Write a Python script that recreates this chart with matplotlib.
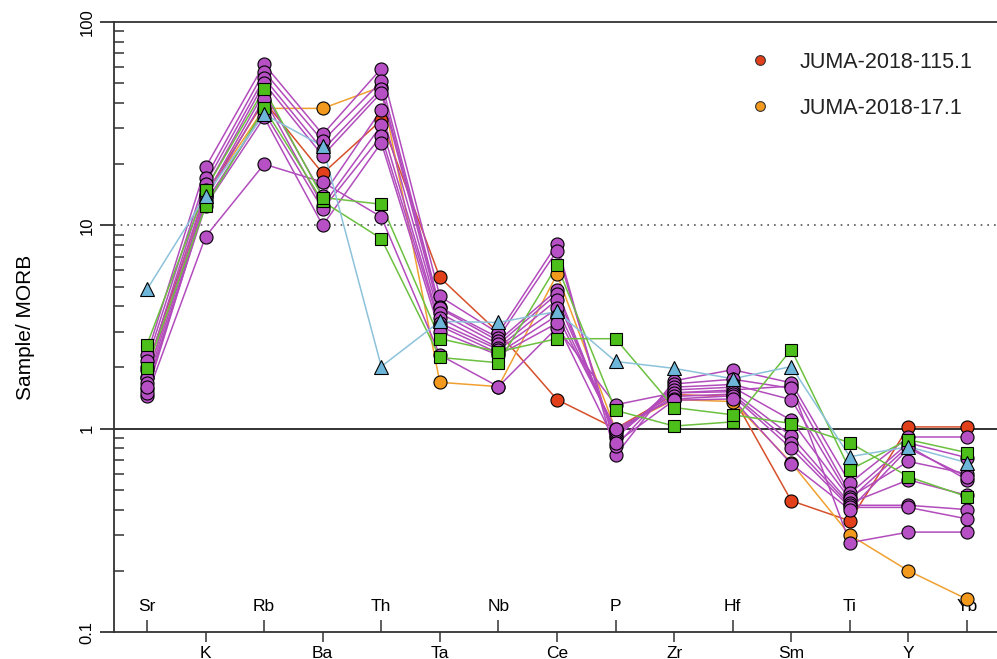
import numpy as np
import matplotlib
matplotlib.use("Agg")
import matplotlib.pyplot as plt
from matplotlib.lines import Line2D

plt.rcParams['font.family'] = ['Liberation Sans', 'DejaVu Sans']

elements = ['Sr', 'K', 'Rb', 'Ba', 'Th', 'Ta', 'Nb', 'Ce', 'P', 'Zr', 'Hf', 'Sm', 'Ti', 'Y', 'Yb']

# MORB-normalised values
red_115 = [2.0, 14.2, 40.8, 18.0, 32.9, 5.54, 2.97, 1.39, 1.0, 1.47, 1.44, 0.442, 0.352, 1.02, 1.02]
orange_17 = [1.8, 14.0, 37.6, 37.6, 48.0, 1.69, 1.61, 5.74, 0.99, 1.39, 1.36, 0.68, 0.30, 0.20, 0.145]

green_1 = [1.98, 12.4, 37.7, 13.1, 8.6, 2.24, 2.11, 6.35, 1.23, 1.03, 1.08, 2.45, 0.628, 0.883, 0.762]
green_2 = [2.59, 15.0, 46.8, 13.7, 12.7, 2.77, 2.39, 2.77, 2.77, 1.27, 1.17, 1.06, 0.853, 0.580, 0.463]

blue_1 = [4.84, 14.0, 35.2, 24.5, 2.02, 3.37, 3.33, 3.77, 2.14, 1.98, 1.76, 2.02, 0.728, 0.815, 0.68]

purple = [
    [1.45, 8.8, 20.0, 16.3, 11.0, 2.3, 1.61, 3.14, 1.31, 1.5, 1.55, 1.62, 0.275, 0.31, 0.31],
    [2.31, 19.3, 62.0, 28.0, 59.0, 4.47, 2.95, 8.1, 0.74, 1.72, 1.95, 1.68, 0.54, 0.91, 0.91],
    [2.14, 17.1, 57.0, 26.0, 51.0, 3.95, 2.8, 7.5, 0.82, 1.66, 1.75, 1.58, 0.48, 0.85, 0.72],
    [1.95, 16.0, 53.0, 23.5, 47.0, 3.9, 2.7, 4.8, 0.9, 1.6, 1.65, 1.39, 0.46, 0.69, 0.60],
    [1.78, 15.0, 50.0, 22.0, 45.0, 3.7, 2.6, 4.6, 0.92, 1.55, 1.6, 1.1, 0.45, 0.82, 0.56],
    [1.67, 14.0, 45.0, 14.0, 37.0, 3.5, 2.5, 4.3, 0.95, 1.5, 1.52, 0.92, 0.43, 0.56, 0.47],
    [1.56, 13.5, 42.0, 12.5, 31.0, 3.3, 2.45, 3.9, 0.97, 1.44, 1.48, 0.85, 0.42, 0.42, 0.40],
    [1.50, 13.0, 36.0, 12.0, 27.5, 3.2, 2.35, 3.6, 1.0, 1.4, 1.45, 0.8, 0.41, 0.41, 0.36],
    [1.60, 12.5, 34.0, 10.0, 25.5, 3.0, 2.3, 3.3, 0.85, 1.38, 1.4, 0.67, 0.40, 0.8, 0.58],
]

x = np.arange(1, len(elements) + 1)

fig = plt.figure(figsize=(9.97, 6.59), dpi=100)
ax = fig.add_axes([114 / 997, 1 - 632 / 659, 1 - 114 / 997, 610 / 659])
ax.set_yscale('log')
ax.set_ylim(0.1, 100)
ax.set_xlim(1 - 33 / 58.57, 15 + 30 / 58.57)

ax.axhline(1, color='#222222', lw=1.3, zorder=1, clip_on=False)
ax.axhline(10, color='#555555', lw=1.2, ls=(0, (1, 3)), zorder=1)


def series(vals, line_c, face_c, marker, ms):
    ax.plot(x, vals, color=line_c, lw=1.1, zorder=2)
    ax.plot(x, vals, ls='none', marker=marker, ms=ms, mfc=face_c, mec='black', mew=0.8, zorder=3)


series(red_115, '#d6502a', '#e2401b', 'o', 9.4)
series(orange_17, '#f0a030', '#f39a1e', 'o', 9.4)
for p in purple:
    series(p, '#b24cbc', '#b650c4', 'o', 9.4)
series(green_1, '#6cc040', '#4cbf1a', 's', 9.0)
series(green_2, '#6cc040', '#4cbf1a', 's', 9.0)
series(blue_1, '#8cc2da', '#6db6d9', '^', 10.5)

# spines
for s in ['left', 'top', 'bottom']:
    ax.spines[s].set_color('#333333')
    ax.spines[s].set_linewidth(1.3)
ax.spines['right'].set_visible(False)

# y ticks
ax.set_yticks([0.1, 1, 10, 100], labels=['0.1', '1', '10', '100'])
ax.tick_params(axis='y', which='major', direction='out', length=10, width=1.3,
               color='#333333', labelsize=12, labelrotation=90, pad=4)
ax.tick_params(axis='y', which='minor', direction='in', length=7, width=1.1, color='#333333')
for lab in ax.get_yticklabels():
    lab.set_va('center')
ax.yaxis.set_minor_formatter(plt.NullFormatter())

# x ticks: alternate inside / outside
ax.set_xticks(x[1::2], labels=elements[1::2])
ax.set_xticks(x[0::2], labels=elements[0::2], minor=True)
ax.tick_params(axis='x', which='major', direction='out', length=7, width=1.1,
               color='#333333', labelsize=12.5, pad=3)
ax.tick_params(axis='x', which='minor', direction='in', length=9, width=1.1,
               color='#333333', labelsize=12.5, pad=-24)

ax.set_ylabel('Sample/ MORB', fontsize=15, labelpad=32)

handles = [
    Line2D([], [], ls='none', marker='o', ms=7, mfc='#e2401b', mec='#333333', mew=0.8),
    Line2D([], [], ls='none', marker='o', ms=7, mfc='#f39a1e', mec='#333333', mew=0.8),
]
fig.legend(handles, ['JUMA-2018-115.1', 'JUMA-2018-17.1'], loc='upper left',
           bbox_to_anchor=(749 / 997, 1 - 52 / 659), frameon=False, fontsize=15.5,
           handlelength=1.0, handletextpad=1.35, labelspacing=1.15,
           borderpad=0, borderaxespad=0, labelcolor='#222222')

fig.savefig('out.png', dpi=100)
